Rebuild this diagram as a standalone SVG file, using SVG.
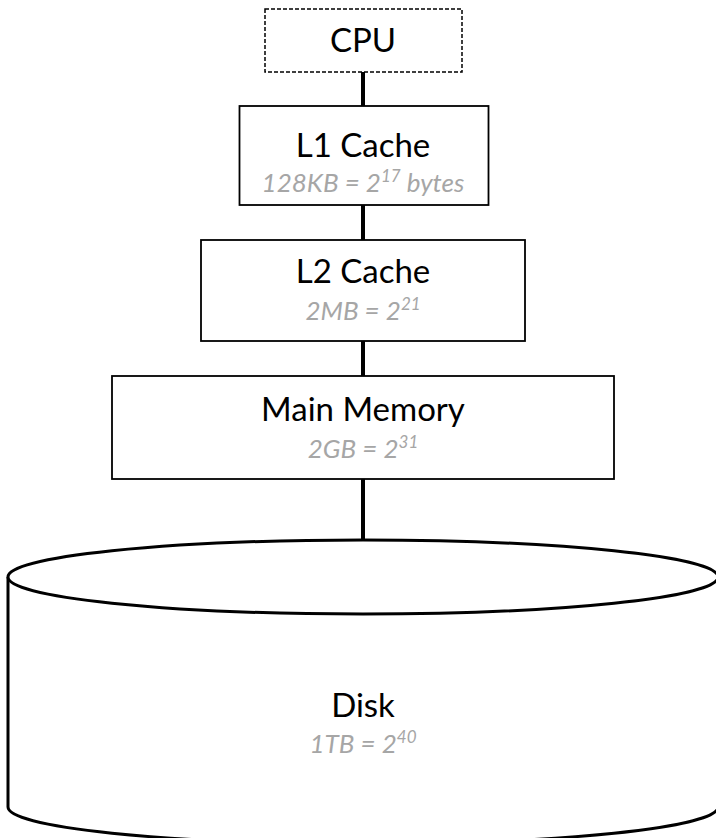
<svg xmlns="http://www.w3.org/2000/svg" width="716" height="838" viewBox="0 0 716 838">
<style>
.box{fill:#fff;stroke:#000;stroke-width:1.8}
.dash{stroke-dasharray:4 2;stroke-width:1.5}
.disk{fill:#fff;stroke:#000;stroke-width:3}
.conn{stroke:#000;stroke-width:4;fill:none}
.t{font-family:Lato,"Liberation Sans",sans-serif;font-size:33px;fill:#000;text-anchor:middle}
.s{font-family:Lato,"Liberation Sans",sans-serif;font-size:26px;font-style:italic;fill:#A6A6A6;text-anchor:middle}
.sup{font-size:17px}
</style>
<rect width="716" height="838" fill="#fff"/>
<g id="connectors">
<line class="conn" x1="363" y1="72" x2="363" y2="106"/>
<line class="conn" x1="363" y1="205" x2="363" y2="240"/>
<line class="conn" x1="363" y1="341" x2="363" y2="376"/>
<line class="conn" x1="363" y1="479" x2="363" y2="540"/>
</g>
<g id="cpu">
<rect class="box dash" x="265" y="9" width="197" height="63"/>
<text class="t" x="363" y="52">CPU</text>
</g>
<g id="l1">
<rect class="box" x="239.5" y="106" width="249" height="99"/>
<text class="t" x="363" y="157">L1 Cache</text>
<text class="s" x="363" y="192">128KB = 2<tspan class="sup" dy="-10">17</tspan><tspan dy="10"> bytes</tspan></text>
</g>
<g id="l2">
<rect class="box" x="201" y="240" width="324" height="101"/>
<text class="t" x="363" y="283">L2 Cache</text>
<text class="s" x="363" y="320">2MB = 2<tspan class="sup" dy="-10">21</tspan></text>
</g>
<g id="mainmemory">
<rect class="box" x="112" y="376" width="502" height="103"/>
<text class="t" x="363" y="421">Main Memory</text>
<text class="s" x="363" y="458">2GB = 2<tspan class="sup" dy="-10">31</tspan></text>
</g>
<g id="disk">
<path class="disk" d="M8,577 L8,807 A355,37 0 0 0 718,807 L718,577"/>
<ellipse class="disk" cx="363" cy="577" rx="355" ry="37"/>
<text class="t" x="363" y="717">Disk</text>
<text class="s" x="363" y="753">1TB = 2<tspan class="sup" dy="-10">40</tspan></text>
</g>
</svg>
